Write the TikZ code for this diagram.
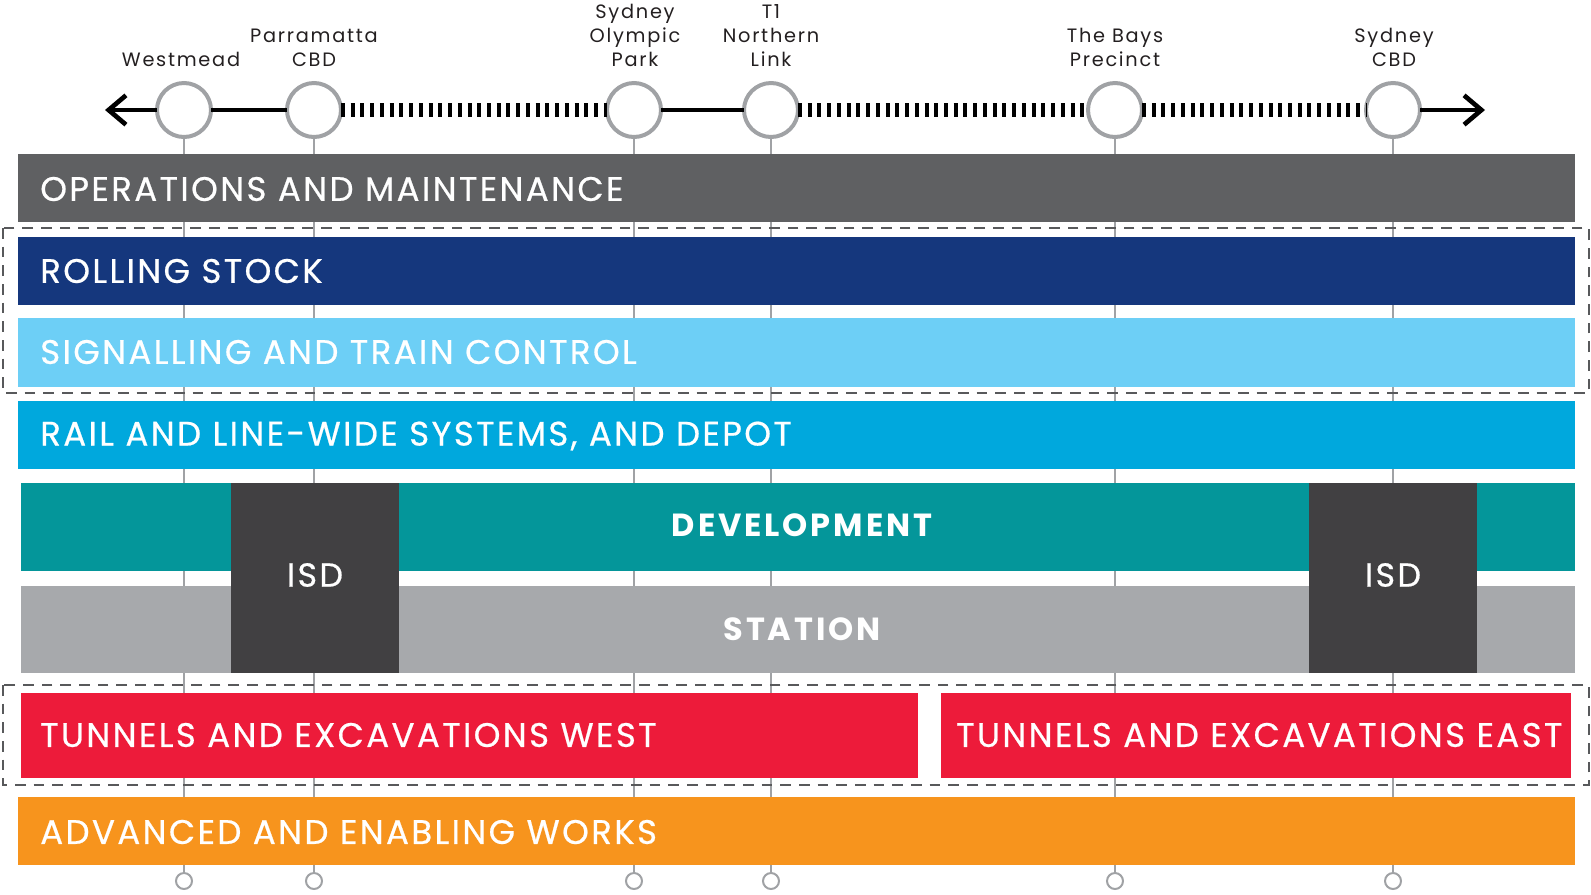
\documentclass[tikz,border=0pt]{standalone}
\usepackage{fontspec}
\setmainfont{Poppins}[LetterSpace=9]
\newfontfamily\barfont{Poppins}[LetterSpace=7,FakeBold=0.6]
\usetikzlibrary{arrows.meta}

\definecolor{opsgrey}{RGB}{95,96,98}
\definecolor{stocknavy}{RGB}{21,55,125}
\definecolor{signalblue}{RGB}{109,207,246}
\definecolor{railblue}{RGB}{0,168,221}
\definecolor{devteal}{RGB}{4,150,154}
\definecolor{stationgrey}{RGB}{167,169,172}
\definecolor{isdgrey}{RGB}{65,64,66}
\definecolor{tunnelred}{RGB}{237,27,58}
\definecolor{worksorange}{RGB}{247,148,29}
\definecolor{ringgrey}{RGB}{160,162,165}
\definecolor{inkgrey}{RGB}{35,31,32}
\definecolor{dashgrey}{RGB}{88,89,91}

\begin{document}
\begin{tikzpicture}[x=0.75pt,y=0.75pt,yscale=-1,xscale=1,
  stop/.style={circle,draw=ringgrey,line width=3pt,fill=white,minimum size=40.5pt,inner sep=0pt,outer sep=0pt},
  foot/.style={circle,draw=ringgrey,line width=1.5pt,fill=white,minimum size=12pt,inner sep=0pt,outer sep=0pt},
  stoplabel/.style={anchor=south,align=center,inner sep=0pt,text=inkgrey,font=\fontsize{14.5}{18}\selectfont},
  track/.style={line width=3.5pt,black},
  future/.style={line width=11pt,black,dash pattern=on 3pt off 4.3pt},
  guide/.style={line width=1.1pt,ringgrey},
  barlabel/.style={anchor=west,inner sep=0pt,text=white,font=\barfont\fontsize{25.5}{29}\selectfont},
  midlabel/.style={inner sep=0pt,text=white,font=\fontsize{24}{28}\selectfont\bfseries},
  dashbox/.style={line width=1.6pt,dashgrey,dash pattern=on 8pt off 6pt}]
\useasboundingbox (0,0) rectangle (1591,894);

% Stops
\node[stop] (wm) at (184,110) {};
\node[stop] (pcbd) at (314,110) {};
\node[stop] (sop) at (634,110) {};
\node[stop] (tnl) at (771,110) {};
\node[stop] (bays) at (1115,110) {};
\node[stop] (cbd) at (1393,110) {};

% Feet
\node[foot] (footwm) at (184,881) {};
\node[foot] (footpcbd) at (314,881) {};
\node[foot] (footsop) at (634,881) {};
\node[foot] (foottnl) at (771,881) {};
\node[foot] (footbays) at (1115,881) {};
\node[foot] (footcbd) at (1393,881) {};

% Guides
\foreach \s in {wm,pcbd,sop,tnl,bays,cbd}
  \draw[guide] (\s) -- (foot\s);

%Shape: Rectangle
\fill[opsgrey] (18,154) rectangle (1575,222);
\node[barlabel] (opslabel) at (40,189) {OPERATIONS AND MAINTENANCE};
%Shape: Rectangle
\fill[stocknavy] (18,237) rectangle (1575,305);
\node[barlabel] (stocklabel) at (40,271) {ROLLING STOCK};
%Shape: Rectangle
\fill[signalblue] (18,318) rectangle (1575,387);
\node[barlabel] (signallabel) at (40,352) {SIGNALLING AND TRAIN CONTROL};
%Shape: Rectangle
\fill[railblue] (18,401) rectangle (1575,469);
\node[barlabel] (raillabel) at (40,436) {RAIL AND LINE-WIDE SYSTEMS, AND DEPOT};
%Shape: Rectangle
\fill[devteal] (21,483) rectangle (1575,571);
\node[midlabel] (devlabel) at (802,525) {DEVELOPMENT};
%Shape: Rectangle
\fill[stationgrey] (21,586) rectangle (1575,673);
\node[midlabel] (stationlabel) at (802,629) {STATION};
%Shape: Rectangle
\fill[isdgrey] (231,483) rectangle (399,673);
\node[midlabel,font=\barfont\fontsize{25}{29}\selectfont] (isdwest) at (315,575) {ISD};
%Shape: Rectangle
\fill[isdgrey] (1309,483) rectangle (1477,673);
\node[midlabel,font=\barfont\fontsize{25}{29}\selectfont] (isdeast) at (1393,575) {ISD};
%Shape: Rectangle
\fill[tunnelred] (21,693) rectangle (918,778);
\node[barlabel] (westlabel) at (40,735) {TUNNELS AND EXCAVATIONS WEST};
%Shape: Rectangle
\fill[tunnelred] (941,693) rectangle (1571,778);
\node[barlabel] (eastlabel) at (956,735) {TUNNELS AND EXCAVATIONS EAST};
%Shape: Rectangle
\fill[worksorange] (18,797) rectangle (1575,865);
\node[barlabel] (workslabel) at (40,832) {ADVANCED AND ENABLING WORKS};

% Packages
\draw[dashbox] (3,228) rectangle (1589,393);
\draw[dashbox] (3,685) rectangle (1589,785);

% Text Node
\node[stoplabel] (wmlabel) at (181,67) {Westmead};
\node[stoplabel] (pcbdlabel) at (314,67) {Parramatta\\CBD};
\node[stoplabel] (soplabel) at (635,67) {Sydney\\Olympic\\Park};
\node[stoplabel] (tnllabel) at (771,67) {T1\\Northern\\Link};
\node[stoplabel] (bayslabel) at (1115,67) {The Bays\\Precinct};
\node[stoplabel] (cbdlabel) at (1394,67) {Sydney\\CBD};

% Line
\coordinate (westtip) at (105,110);
\coordinate (easttip) at (1485,110);
\draw[track,-{Straight Barb[length=13pt,width=22pt]}] (wm) -- (westtip);
\draw[track] (wm) -- (pcbd);
\draw[future] (pcbd) -- (sop);
\draw[track] (sop) -- (tnl);
\draw[future] (tnl) -- (bays);
\draw[future] (bays) -- (cbd);
\draw[track,-{Straight Barb[length=13pt,width=22pt]}] (cbd) -- (easttip);

\end{tikzpicture}
\end{document}
